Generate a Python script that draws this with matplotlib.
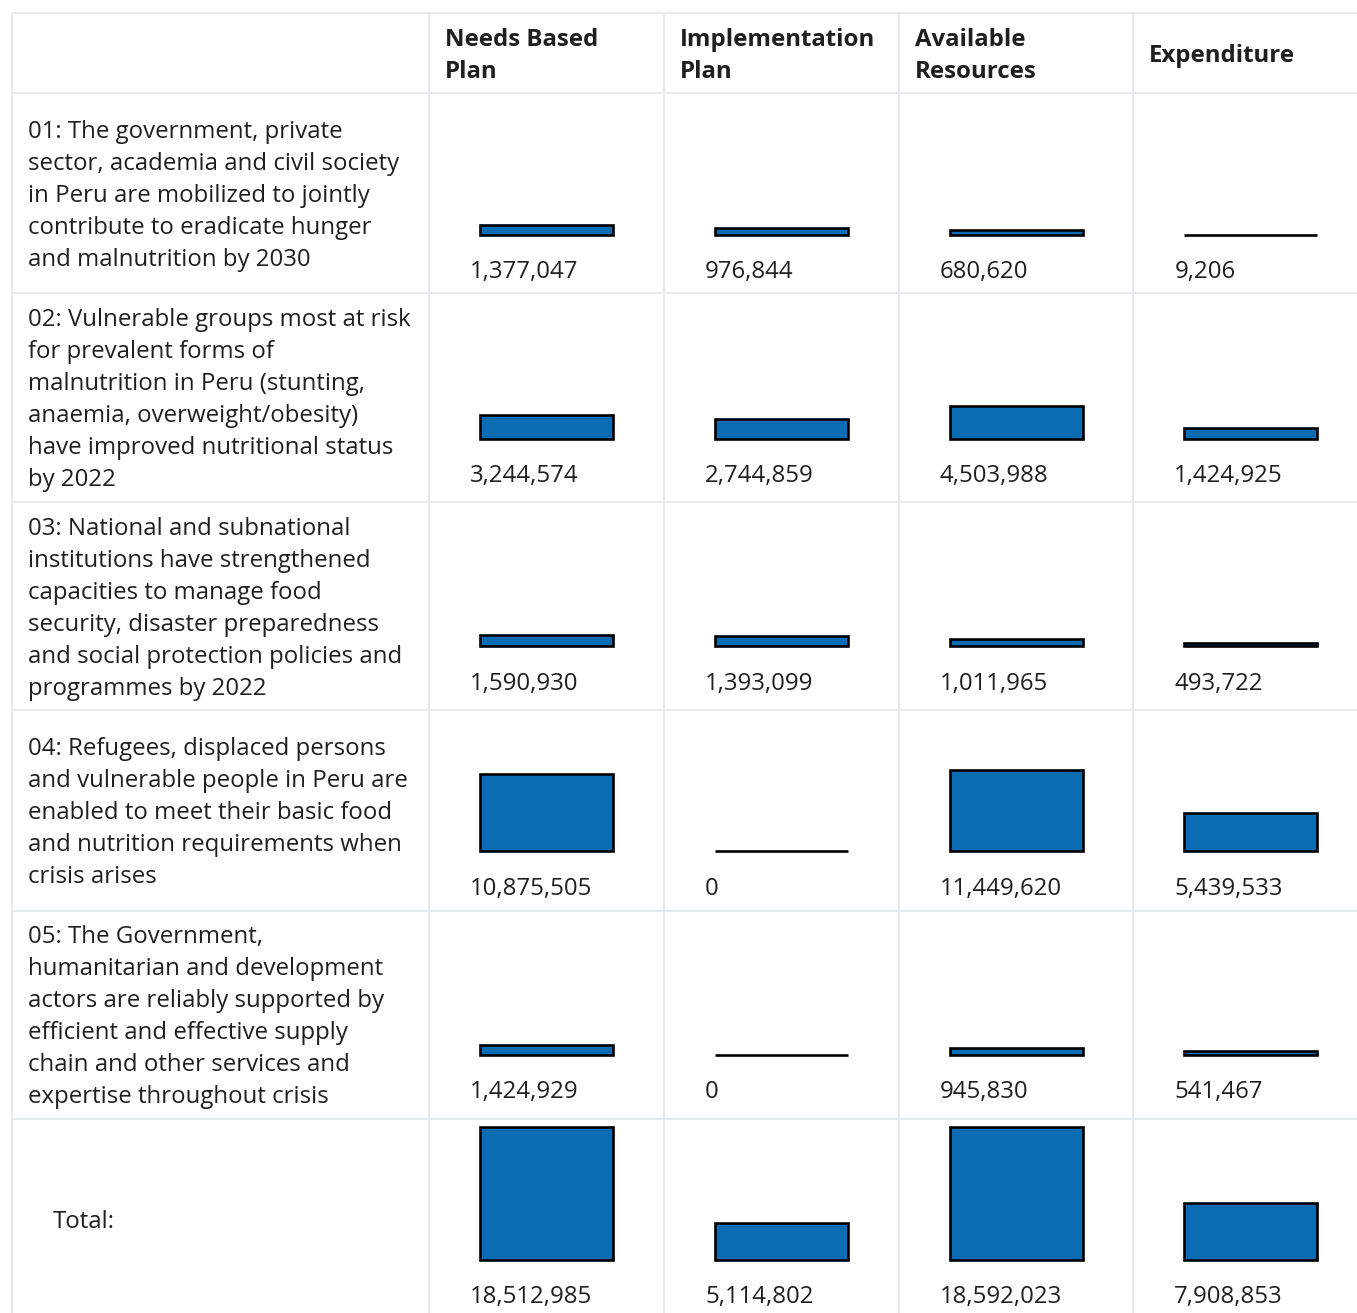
import matplotlib
matplotlib.use("Agg")
import matplotlib.pyplot as plt

# ---------------- data ----------------
row_labels = [
    "01: The government, private\nsector, academia and civil society\nin Peru are mobilized to jointly\ncontribute to eradicate hunger\nand malnutrition by 2030",
    "02: Vulnerable groups most at risk\nfor prevalent forms of\nmalnutrition in Peru (stunting,\nanaemia, overweight/obesity)\nhave improved nutritional status\nby 2022",
    "03: National and subnational\ninstitutions have strengthened\ncapacities to manage food\nsecurity, disaster preparedness\nand social protection policies and\nprogrammes by 2022",
    "04: Refugees, displaced persons\nand vulnerable people in Peru are\nenabled to meet their basic food\nand nutrition requirements when\ncrisis arises",
    "05: The Government,\nhumanitarian and development\nactors are reliably supported by\nefficient and effective supply\nchain and other services and\nexpertise throughout crisis",
    "Total:",
]
column_labels = ["Needs Based\nPlan", "Implementation\nPlan", "Available\nResources", "Expenditure"]

needs_based = [1377047, 3244574, 1590930, 10875505, 1424929, 18512985]
implementation = [976844, 2744859, 1393099, 0, 0, 5114802]
available = [680620, 4503988, 1011965, 11449620, 945830, 18592023]
expenditure = [9206, 1424925, 493722, 5439533, 541467, 7908853]
series = [needs_based, implementation, available, expenditure]

# ---------------- layout ----------------
W, H = 1357, 1313
FONT = "Open Sans"
FS = 17.3
TXT = "#1f1f1f"
GRID = "#e4e7eb"
BAR = "#0a6db3"
PX_PER_UNIT = 7.15e-6      # pixels per value unit (shared bar scale)
BAR_AX_H = 145             # pixel height of each bar axes

col_x = [12, 429.3, 664, 898.7, 1133.3]
row_y = [13, 93, 293, 502, 710, 910.5, 1118.5, 1320]
bar_base = [234.6, 438.6, 646.3, 851.4, 1055.0, 1259.8]  # y (from top) of bar baseline

fig = plt.figure(figsize=(W / 100, H / 100), dpi=100)
fig.patch.set_facecolor("white")
ax = fig.add_axes([0, 0, 1, 1])
ax.set_xlim(0, W)
ax.set_ylim(H, 0)
ax.axis("off")

# grid
for y in row_y[:-1]:
    ax.plot([col_x[0], W], [y, y], color=GRID, lw=1.2, solid_capstyle="butt", zorder=1)
for x in col_x:
    ax.plot([x, x], [row_y[0], H], color=GRID, lw=1.2, solid_capstyle="butt", zorder=1)

LINE = 32


def multiline(x, center, text, weight="normal"):
    lines = text.split("\n")
    n = len(lines)
    for i, ln in enumerate(lines):
        y = center + 8.6 + (i - (n - 1) / 2) * LINE
        ax.text(x, y, ln, fontsize=FS, family=FONT, weight=weight, color=TXT,
                ha="left", va="baseline")


# header
hc = (row_y[0] + row_y[1]) / 2
for c, lab in enumerate(column_labels):
    multiline(col_x[c + 1] + 16, hc, lab, weight="bold")

# row labels
for r, lab in enumerate(row_labels):
    center = (row_y[r + 1] + row_y[r + 2]) / 2
    x = 27.5 if r < len(row_labels) - 1 else 52.5
    multiline(x, center, lab)

# bars + value labels
for c, vals in enumerate(series):
    for r, v in enumerate(vals):
        left = col_x[c + 1] + 51
        bw = 133
        base = bar_base[r]
        bax = fig.add_axes([left / W, 1 - base / H, bw / W, BAR_AX_H / H])
        bax.set_xlim(-0.5, 0.5)
        bax.set_ylim(0, BAR_AX_H / PX_PER_UNIT)
        bax.bar(0, v, width=1, color=BAR, edgecolor="black", linewidth=1.9,
                clip_on=False)
        bax.axis("off")
        ax.text(col_x[c + 1] + 41, base + 1.25 + 42, f"{v:,}", fontsize=FS,
                family=FONT, color=TXT, ha="left", va="baseline")

fig.savefig("out.png", dpi=100, facecolor="white")
